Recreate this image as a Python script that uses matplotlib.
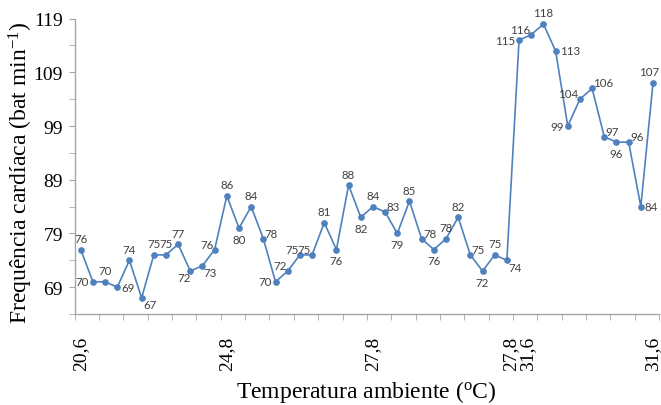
import matplotlib.pyplot as plt
from matplotlib.ticker import FixedLocator

# heart rate per reading (bat/min), in order of the x categories
freq = [76, 70, 70, 69, 74, 67, 75, 75, 77, 72, 73, 76, 86, 80, 84, 78,
        70, 72, 75, 75, 81, 76, 88, 82, 84, 83, 79, 85, 78, 76, 78, 82,
        75, 72, 75, 74, 115, 116, 118, 113, 99, 104, 106, 97, 96, 96, 84, 107]
temp_pos = [0, 12, 24, 36, 47]
temp_labels = ['20,6', '24,8', '27,8', '27,8\n31,6', '31,6']
y_ticks = [69, 79, 89, 99, 109, 119]

# where each value label sits relative to its marker
label_side = ['a', 'l', 'a', 'r', 'a', 'br', 'a', 'a', 'a', 'bl', 'br', 'ul',
              'a', 'b', 'a', 'ur', 'l', 'ul', 'ul', 'ul', 'a', 'b', 'a', 'b',
              'a', 'ur', 'b', 'a', 'ur', 'b', 'a', 'a', 'ur', 'b', 'a', 'br',
              'l', 'ul', 'a', 'r', 'l', 'ul', 'ur', 'ur', 'b', 'ur', 'r', 'al']

plt.rcParams['mathtext.fontset'] = 'custom'
plt.rcParams['mathtext.rm'] = 'Liberation Serif'
plt.rcParams['mathtext.it'] = 'Liberation Serif:italic'
plt.rcParams['mathtext.default'] = 'regular'

serif = 'Liberation Serif'
blue = '#4F81BD'
gray = '#A6A6A6'

fig = plt.figure(figsize=(6.61, 4.06), dpi=100)
ax = fig.add_axes([0.1129, 0.2241, 0.8842, 0.7276])

x = list(range(len(freq)))
ax.plot(x, freq, color=blue, lw=1.2, marker='o', ms=3.8, mec=blue, mfc=blue)

offsets = {'a': (0, 8, 'center'), 'b': (0, -8, 'center'),
           'al': (-3, 8, 'center'),
           'l': (-3, 0, 'right'), 'r': (3, 0, 'left'),
           'ul': (-1, 4, 'right'), 'ur': (1, 4, 'left'),
           'bl': (0, -5, 'right'), 'br': (1, -5, 'left')}
for xi, v, side in zip(x, freq, label_side):
    dx, dy, ha = offsets[side]
    ax.annotate(str(v), (xi, v), xytext=(dx, dy), textcoords='offset points',
                ha=ha, va='center', fontsize=8.3, color='#404040', family='Lato')

ax.set_xlim(-0.5, len(freq) - 0.5)
ax.set_ylim(64, 119)

# x axis: tick marks between every two categories, labels at a few points
ax.xaxis.set_minor_locator(FixedLocator([i - 0.5 for i in range(0, len(freq) + 1, 2)]))
ax.set_xticks(temp_pos)
ax.set_xticklabels(temp_labels, rotation=90, family=serif, fontsize=14, linespacing=0.95)
ax.tick_params(axis='x', which='major', length=0, pad=16)
ax.tick_params(axis='x', which='minor', length=4, color=gray, direction='out')

ax.set_yticks(y_ticks)
ax.set_yticklabels([str(t) for t in y_ticks], family=serif, fontsize=14)
ax.yaxis.set_minor_locator(FixedLocator([t + 5 for t in y_ticks[:-1]] + [64]))
ax.tick_params(axis='y', which='both', length=4, color=gray, direction='out', pad=4.5)

for s in ['top', 'right']:
    ax.spines[s].set_visible(False)
for s in ['left', 'bottom']:
    ax.spines[s].set_color(gray)
    ax.spines[s].set_linewidth(1)

fig.text(21 / 661, 1 - 173 / 406, 'Frequência cardíaca (bat min$^{-1}$)',
         rotation=90, ha='center', va='center', family=serif, fontsize=17)
fig.text(366 / 661, 1 - 392 / 406, 'Temperatura ambiente ($^{o}$C)',
         ha='center', va='center', family=serif, fontsize=17)

fig.savefig('out.png', dpi=100)
